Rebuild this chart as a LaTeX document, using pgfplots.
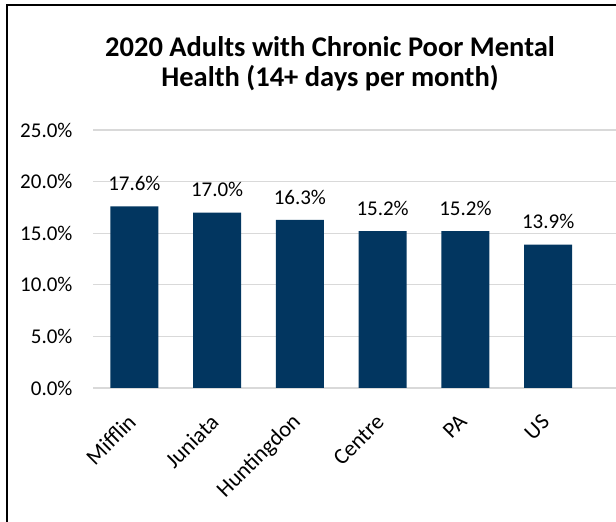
\documentclass[border=0pt]{standalone}
\usepackage{fontspec}
\setmainfont{Carlito}
\usepackage{pgfplots}
\pgfplotsset{compat=1.18}
\definecolor{barblue}{RGB}{2,54,96}
\definecolor{gridgray}{RGB}{217,217,217}
\begin{document}
\begin{tikzpicture}[x=1pt,y=1pt]
\useasboundingbox (0,0) rectangle (616,522);
\draw[line width=2pt] (7,-2) -- (7,517) -- (620,517);
\node[font=\fontsize{28.5}{32}\selectfont\bfseries] at (330,475) {2020 Adults with Chronic Poor Mental};
\node[font=\fontsize{28.5}{32}\selectfont\bfseries] at (330,444) {Health (14+ days per month)};
\begin{axis}[
  at={(93pt,134pt)}, anchor=south west,
  scale only axis, width=523pt, height=258pt,
  xmin=-0.5, xmax=5.82, ymin=0, ymax=25,
  axis line style={draw=none},
  major tick length=0pt,
  ymajorgrids, grid style={gridgray, line width=1.2pt},
  ytick={0,5,10,15,20,25},
  yticklabel={\pgfmathprintnumber[fixed,fixed zerofill,precision=1]{\tick}\%},
  yticklabel style={font=\fontsize{21}{24}\selectfont, anchor=east, xshift=-17pt},
  xtick={0,1,2,3,4,5},
  xticklabels={Mifflin,Juniata,Huntingdon,Centre,PA,US},
  xticklabel style={font=\fontsize{22.5}{24}\selectfont, xshift=0pt, yshift=-28pt, rotate=45, anchor=east},
  /pgf/number format/assume math mode=true,
  ybar, bar width=48pt,
  nodes near coords={\pgfmathprintnumber[fixed,fixed zerofill,precision=1]{\pgfplotspointmeta}\%},
  nodes near coords style={font=\fontsize{21}{24}\selectfont, text=black, yshift=12pt},
  point meta=y,
  clip=false,
]
\addplot[fill=barblue, draw=none] coordinates {(0,17.6) (1,17.0) (2,16.3) (3,15.2) (4,15.2) (5,13.9)};
\end{axis}
\end{tikzpicture}
\end{document}
